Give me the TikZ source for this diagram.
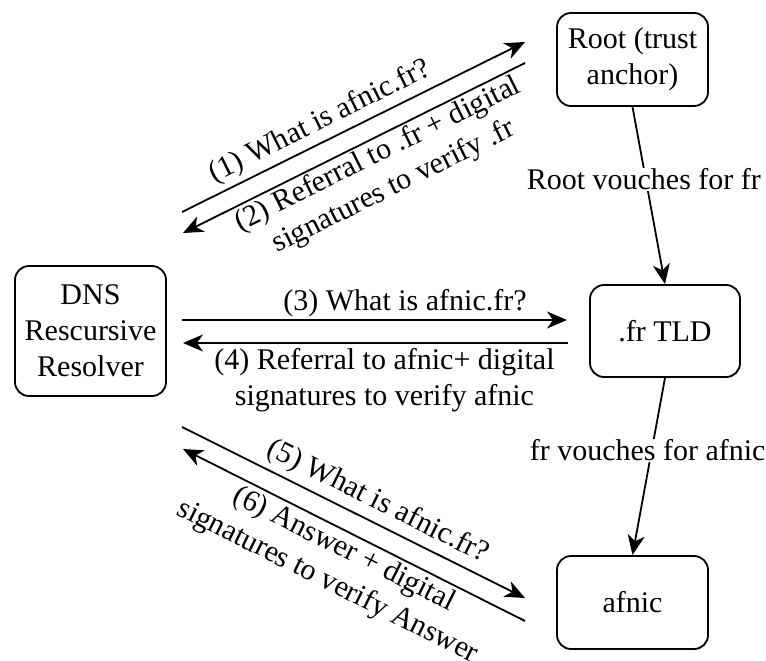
\documentclass[tikz,border=0pt]{standalone}
\usepackage{fontspec}
\setmainfont{Liberation Serif}
\usetikzlibrary{arrows.meta}
\begin{document}
\begin{tikzpicture}[x=1pt,y=-1pt,
  every node/.style={font=\fontsize{30}{36}\selectfont, align=center},
  box/.style={draw, line width=1.8pt, rounded corners=14pt, inner sep=0pt},
  lbl/.style={inner sep=1pt},
  conn/.style={line width=1.8pt, -{Stealth[length=20pt,width=17pt,inset=6pt]}},
]
\useasboundingbox (0,0) rectangle (766,661);
\node[box, minimum width=151pt, minimum height=93pt] (root) at (632.5,59.5) {Root (trust\\anchor)};
\node[box, minimum width=150pt, minimum height=92pt] (tld) at (665,331) {.fr TLD};
\node[box, minimum width=151pt, minimum height=130pt] (dns) at (90.5,331) {DNS\\Rescursive\\Resolver};
\node[box, minimum width=151pt, minimum height=93pt] (afnic) at (632.5,602.5) {afnic};

\coordinate (q1s) at (182,212); \coordinate (q1e) at (525,42);
\coordinate (r2s) at (525,63);  \coordinate (r2e) at (183,233);
\coordinate (q3s) at (182,320); \coordinate (q3e) at (567,320);
\coordinate (r4s) at (568,343); \coordinate (r4e) at (183,343);
\coordinate (q5s) at (182,427); \coordinate (q5e) at (525,598);
\coordinate (r6s) at (525,621); \coordinate (r6e) at (183,449);

\draw[conn] (q1s) -- (q1e);
\draw[conn] (r2s) -- (r2e);
\draw[conn] (q3s) -- (q3e);
\draw[conn] (r4s) -- (r4e);
\draw[conn] (q5s) -- (q5e);
\draw[conn] (r6s) -- (r6e);

\draw[conn] (root.south) -- node[lbl, fill=white, pos=0.41, xshift=-2pt] (v1) {Root vouches for fr} (tld.north);
\draw[conn] (tld.south) -- node[lbl, fill=white, pos=0.41, xshift=-4pt] (v2) {fr vouches for afnic} (afnic.north);

\node[lbl, rotate=26.4] (l1) at (320,122) {(1) What is afnic.fr?};
\node[lbl, rotate=26.4] (l2) at (386,171) {(2) Referral to .fr + digital\\signatures to verify .fr};
\node[lbl] (l3) at (405,303) {(3) What is afnic.fr?};
\node[lbl] (l4) at (384.5,380) {(4) Referral to afnic+ digital\\signatures to verify afnic};
\node[lbl, rotate=-26.5] (l5) at (378,502) {(5) What is afnic.fr?};
\node[lbl, rotate=-26.6] (l6) at (335.5,566) {(6) Answer + digital\\signatures to verify Answer};
\end{tikzpicture}
\end{document}
